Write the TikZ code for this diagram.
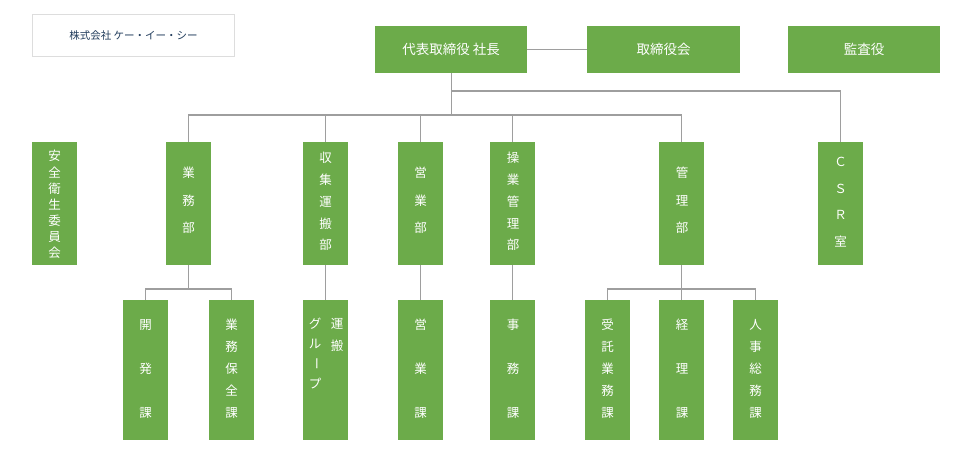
\documentclass[tikz,border=0pt]{standalone}
\usepackage{fontspec}
\setmainfont{Noto Sans CJK JP}
\definecolor{gr}{HTML}{6CAB4A}
\definecolor{ln}{HTML}{9E9E9E}
\definecolor{nv}{HTML}{1F3A5A}
\tikzset{box/.style={fill=gr,draw=none,inner sep=0},
 ch/.style={text=white,font=\fontsize{12.5}{14}\selectfont,inner sep=0},
 con/.style={draw=ln,line width=1.4pt}}
\newcommand{\vtext}[4]{\foreach \c [count=\i from 0] in {#4}{\node[ch] at (#1,#2+\i*#3) {\c};}}
\begin{document}
\begin{tikzpicture}[x=1pt,y=-1pt]
\useasboundingbox (0,0) rectangle (962,459);
% top
\node[draw={rgb,255:red,221;green,221;blue,221},line width=1pt,minimum width=202,minimum height=42,anchor=north west,text=nv,font=\fontsize{10.5}{12}\selectfont,inner sep=0] (kec) at (32,14) {株式会社 ケー・イー・シー};
\node[box,minimum width=152,minimum height=47,anchor=north west,text=white,font=\fontsize{13.5}{15}\selectfont] (ceo) at (375,26) {代表取締役 社長};
\node[box,minimum width=153,minimum height=47,anchor=north west,text=white,font=\fontsize{13.5}{15}\selectfont] (bod) at (587,26) {取締役会};
\node[box,minimum width=152,minimum height=47,anchor=north west,text=white,font=\fontsize{13.5}{15}\selectfont] (aud) at (788,26) {監査役};
% row 2
\foreach \n/\x in {anz/32,gyo/166,shu/303,eig/398,sou/490,kan/659,csr/818}{
 \node[box,minimum width=45,minimum height=123,anchor=north west] (\n) at (\x,142) {};}
% row 3
\foreach \n/\x in {kai/123,hoz/209,unp/303,eik/398,jim/490,jyu/585,kei/659,jin/733}{
 \node[box,minimum width=45,minimum height=140,anchor=north west] (\n) at (\x,300) {};}
% connectors
\draw[con] (ceo.east) -- (bod.west);
\coordinate (c1) at (ceo.south |- 0,91);
\coordinate (c2) at (ceo.south |- 0,115);
\draw[con] (ceo.south) -- (c2);
\draw[con] (c1) -| (csr.north);
\draw[con] (gyo.north) |- (kan.north |- c2) -- (kan.north);
\foreach \n in {shu,eig,sou}{\draw[con] (\n.north) -- (\n.north |- c2);}
\coordinate (g1) at (gyo.south |- 0,289);
\draw[con] (gyo.south) -- (g1);
\draw[con] (kai.north) |- (hoz.north |- g1) -- (hoz.north);
\coordinate (k1) at (kan.south |- 0,289);
\draw[con] (kan.south) -- (k1);
\draw[con] (jyu.north) |- (jin.north |- k1) -- (jin.north);
\draw[con] (kei.north) -- (kei.north |- k1);
\draw[con] (shu.south) -- (unp.north);
\draw[con] (eig.south) -- (eik.north);
\draw[con] (sou.south) -- (jim.north);
% texts row 2
\vtext{54.5}{156}{16.2}{安,全,衛,生,委,員,会}
\vtext{188.5}{173}{27.5}{業,務,部}
\vtext{325.5}{158}{21.8}{収,集,運,搬,部}
\vtext{420.5}{173}{27.5}{営,業,部}
\vtext{513}{158}{21.8}{操,業,管,理,部}
\vtext{682}{173}{27.5}{管,理,部}
\vtext{840.5}{162}{26.5}{Ｃ,Ｓ,Ｒ,室}
% texts row 3
\vtext{145.5}{325}{44}{開,発,課}
\vtext{231.5}{325}{22}{業,務,保,全,課}
\vtext{337}{324}{22}{運,搬}
\vtext{315}{324}{20}{グ,ル,\rotatebox{-90}{ー},プ}
\vtext{420.5}{325}{44}{営,業,課}
\vtext{513}{325}{44}{事,務,課}
\vtext{607.5}{325}{22}{受,託,業,務,課}
\vtext{682}{325}{44}{経,理,課}
\vtext{755.5}{325}{22}{人,事,総,務,課}
\end{tikzpicture}
\end{document}
